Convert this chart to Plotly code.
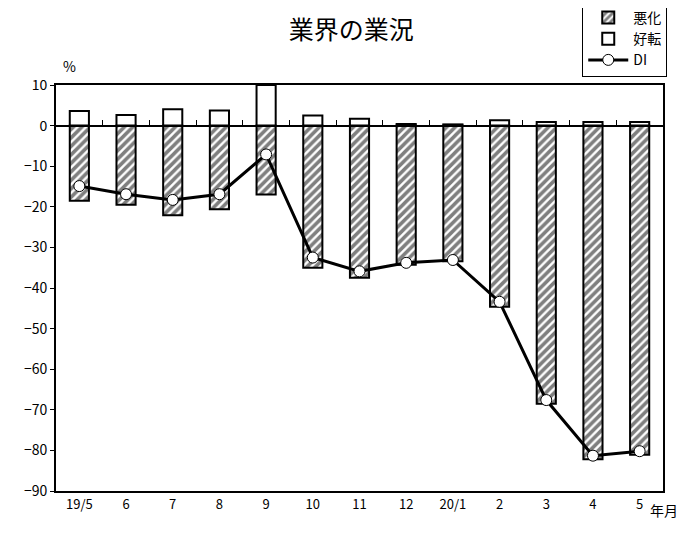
import plotly.graph_objects as go

categories = ["19/5", "6", "7", "8", "9", "10", "11", "12", "20/1", "2", "3", "4", "5"]
akka = [-18.5, -19.5, -22.1, -20.6, -17.0, -35.0, -37.5, -34.3, -33.4, -44.6, -68.5, -82.2, -81.1]
kouten = [3.6, 2.6, 4.0, 3.7, 10.0, 2.5, 1.7, 0.4, 0.3, 1.3, 0.9, 0.9, 0.9]
di = [-14.9, -16.9, -18.3, -16.9, -7.1, -32.5, -35.9, -33.8, -33.1, -43.4, -67.6, -81.3, -80.2]
y_ticks = [10, 0, -10, -20, -30, -40, -50, -60, -70, -80, -90]

xs = list(range(len(categories)))
FONT = "Noto Sans CJK JP, sans-serif"

fig = go.Figure()
fig.add_trace(go.Bar(
    x=xs, y=akka, name="悪化", width=0.41,
    marker=dict(color="white", line=dict(color="black", width=2),
                pattern=dict(shape="/", fgcolor="black", bgcolor="white", size=6, solidity=0.6)),
))
fig.add_trace(go.Bar(
    x=xs, y=kouten, name="好転", width=0.41,
    marker=dict(color="white", line=dict(color="black", width=2)),
))
fig.add_trace(go.Scatter(
    x=xs, y=di, name="DI", mode="lines+markers",
    line=dict(color="black", width=3),
    marker=dict(symbol="circle", size=11, color="white", line=dict(color="black", width=1)),
))
# helper axis for the zero line with boundary ticks
fig.add_trace(go.Scatter(x=[xs[0]], y=[0], xaxis="x2", showlegend=False,
                         mode="markers", marker=dict(opacity=0), hoverinfo="skip"))

fig.update_layout(
    width=699, height=534,
    margin=dict(l=48, r=44, t=77, b=51, autoexpand=False),
    paper_bgcolor="white", plot_bgcolor="white",
    barmode="overlay",
    font=dict(family=FONT, size=13, color="black"),
    title=dict(text="業界の業況", x=0.491, xanchor="center", y=0.958, yanchor="middle",
               font=dict(family="Noto Sans CJK JP", size=25, color="black")),
    legend=dict(x=1.007, xanchor="right", y=1.02, yanchor="bottom",
                bordercolor="black", borderwidth=1, bgcolor="white",
                font=dict(family="Noto Sans CJK JP", size=14),
                tracegroupgap=0, itemwidth=40),
    xaxis=dict(range=[-0.5, len(categories) - 0.5], tickvals=xs, ticktext=categories,
               showline=True, linecolor="black", linewidth=2, mirror=True,
               ticks="", showgrid=False, zeroline=False,
               tickfont=dict(family=FONT, size=13)),
    xaxis2=dict(range=[-0.5, len(categories) - 0.5], overlaying="x", anchor="free",
                position=0.9, side="bottom",
                tickvals=[i + 0.5 for i in xs[:-1]], ticks="inside", ticklen=5,
                tickcolor="black", tickwidth=1, showticklabels=False,
                showline=True, linecolor="black", linewidth=2, showgrid=False, zeroline=False),
    yaxis=dict(range=[-90, 10], tickvals=y_ticks, ticktext=[("−" + str(-v)) if v < 0 else str(v) for v in y_ticks],
               showline=True, linecolor="black", linewidth=2, mirror=True,
               ticks="outside", ticklen=4, tickcolor="black",
               showgrid=False, zeroline=False, tickfont=dict(family=FONT, size=14)),
    annotations=[
        dict(text="%", xref="paper", yref="paper", x=0.008, y=1.018, yanchor="bottom", showarrow=False,
             font=dict(family=FONT, size=14)),
        dict(text="年月", xref="paper", yref="paper", x=1.028, y=-0.076, showarrow=False,
             font=dict(family="Noto Sans CJK JP", size=14)),
    ],
)

fig.write_html("out.html")
